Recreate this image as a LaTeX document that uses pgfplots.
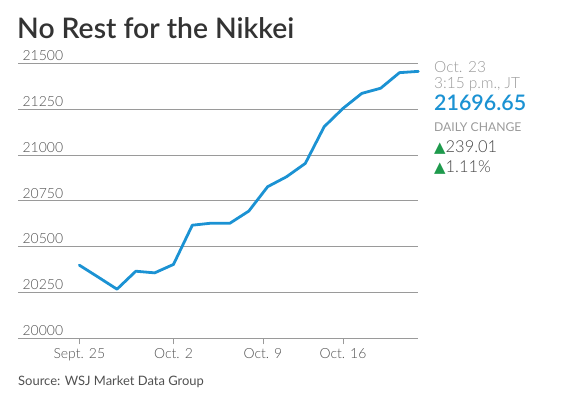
\documentclass[border=0pt]{standalone}
\usepackage{pgfplots}
\pgfplotsset{compat=1.18}
\usepackage{fontspec}
\setmainfont{Lato}
\newfontfamily\lightfont{Lato Light}
\newfontfamily\semifont{Lato Semibold}
\newfontfamily\symfont{DejaVu Sans}
\definecolor{wsjblue}{HTML}{1B92D3}
\definecolor{gridgray}{HTML}{9A9A9A}
\definecolor{txtgray}{HTML}{444444}
\definecolor{ticktxt}{HTML}{505050}
\definecolor{lightgray}{HTML}{9A9A9A}
\definecolor{upgreen}{HTML}{1E9A4C}
\begin{document}
\begin{tikzpicture}[x=1bp,y=1bp]
\useasboundingbox (0,0) rectangle (561,-398);
\begin{axis}[
  at={(18.3bp,-338.3bp)}, anchor=south west,
  scale only axis, width=400bp, height=275bp,
  xmin=-3.24, xmax=18, ymin=20000, ymax=21500,
  axis line style={draw=none},
  ymajorgrids, grid style={gridgray, line width=0.8bp},
  scaled y ticks=false,
  ytick={20000,20250,20500,20750,21000,21250,21500},
  yticklabels={20000,20250,20500,20750,21000,21250,21500},
  ytick style={draw=none},
  yticklabel style={anchor=south east, xshift=52bp, yshift=1.5bp, inner sep=1bp, font=\lightfont\fontsize{14}{16}\selectfont, text=ticktxt},
  xtick={0,5,9.75,14},
  xticklabels={Sept. 25, Oct. 2, Oct. 9, Oct. 16},
  xtick pos=bottom, tick align=outside,
  major tick length=6bp,
  xtick style={gridgray, line width=0.8bp},
  xticklabel style={font=\lightfont\fontsize{14}{16}\selectfont, text=ticktxt, yshift=-1bp},
  clip=false,
]
\addplot[wsjblue, line width=2.8bp, line join=round, line cap=round] coordinates {
(0,20399) (1,20334) (2,20268) (3,20366) (4,20357) (5,20403) (6,20617)
(7,20628) (8,20628) (9,20694) (10,20827) (11,20881) (12,20954) (13,21154)
(14,21254) (15,21336) (16,21364) (17,21449) (18,21456)
};
\end{axis}
\node[anchor=base west, inner sep=0, text=black!80, font=\semifont\fontsize{28.4}{32}\selectfont] at (17,-38.5) {No Rest for the Nikkei};
\node[anchor=base west, inner sep=0, text=lightgray, font=\lightfont\fontsize{15.5}{17}\selectfont] at (434,-72) {Oct. 23};
\node[anchor=base west, inner sep=0, text=lightgray, font=\lightfont\fontsize{15.5}{17}\selectfont] at (434,-88) {3:15 p.m., JT};
\node[anchor=base west, inner sep=0, text=wsjblue, font=\semifont\fontsize{21.5}{24}\selectfont] at (434,-110) {21696.65};
\node[anchor=base west, inner sep=0, text=lightgray, font=\fontsize{12.2}{14}\selectfont] at (434,-131) {DAILY CHANGE};
\node[anchor=base west, inner sep=0, text=txtgray, font=\lightfont\fontsize{16.5}{18}\selectfont] at (434,-152) {{\color{upgreen}\symfont\fontsize{15}{16}\selectfont▲}239.01};
\node[anchor=base west, inner sep=0, text=txtgray, font=\lightfont\fontsize{16.5}{18}\selectfont] at (434,-172) {{\color{upgreen}\symfont\fontsize{15}{16}\selectfont▲}1.11\%};
\node[anchor=base west, inner sep=0, text=ticktxt, font=\fontsize{13}{15}\selectfont] at (18,-385) {Source: WSJ Market Data Group};
\end{tikzpicture}
\end{document}
